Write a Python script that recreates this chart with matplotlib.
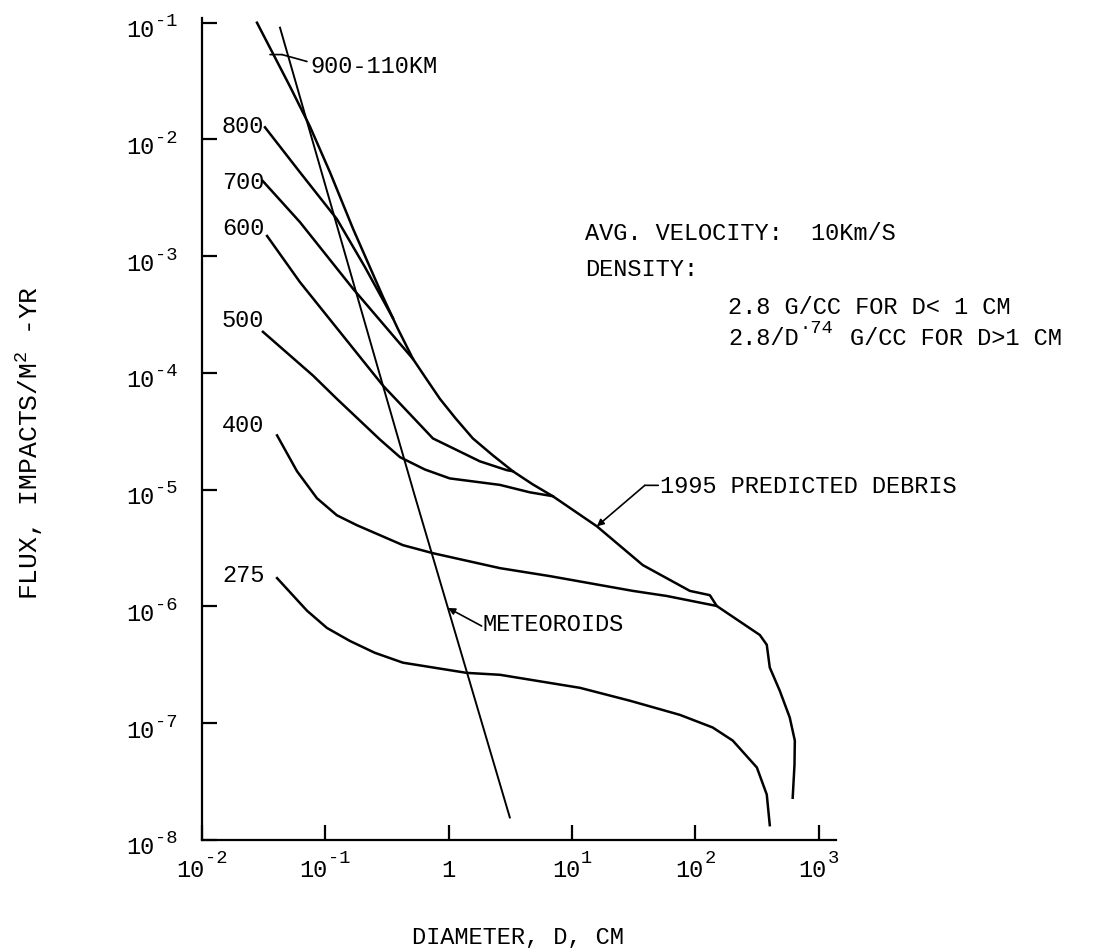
import matplotlib
matplotlib.use("Agg")
import matplotlib.pyplot as plt

plt.rcParams['font.family'] = ['Liberation Mono', 'DejaVu Sans Mono']
plt.rcParams['mathtext.fontset'] = 'custom'
plt.rcParams['mathtext.rm'] = 'Liberation Mono'
plt.rcParams['mathtext.it'] = 'Liberation Mono'
plt.rcParams['mathtext.default'] = 'rm'

# ---------------- data (diameter cm, flux impacts/m^2-yr) ----------------
# 900-1100 km curve continuing as the 1995 predicted debris envelope
d_env = [0.0279, 0.0517, 0.075, 0.109, 0.168, 0.293, 0.387, 0.513, 0.665, 0.849,
         1.14, 1.57, 2.28, 3.31, 4.81, 6.98, 15.9, 37.5, 90.2, 131, 149,
         333, 379, 401, 483, 582, 640, 636, 615]
f_env = [1.0e-1, 2.84e-2, 1.29e-2, 5.24e-3, 1.71e-3, 4.49e-4, 2.39e-4, 1.32e-4,
         8.77e-5, 6.0e-5, 4.07e-5, 2.75e-5, 1.97e-5, 1.44e-5, 1.11e-5, 8.8e-6,
         4.86e-6, 2.26e-6, 1.36e-6, 1.25e-6, 1.01e-6,
         5.7e-7, 4.7e-7, 3.0e-7, 1.9e-7, 1.12e-7, 7.1e-8, 4.4e-8, 2.3e-8]

d_800 = [0.0324, 0.0622, 0.124, 0.209, 0.353]
f_800 = [1.27e-2, 5.24e-3, 2.08e-3, 8.1e-4, 2.95e-4]

d_700 = [0.0312, 0.0622, 0.168, 0.293, 0.513]
f_700 = [4.39e-3, 1.96e-3, 5.25e-4, 2.64e-4, 1.32e-4]

d_600 = [0.0337, 0.0622, 0.293, 0.745, 1.79, 2.96, 3.31]
f_600 = [1.49e-3, 6.0e-4, 7.8e-5, 2.75e-5, 1.75e-5, 1.47e-5, 1.44e-5]

d_500 = [0.0312, 0.0794, 0.124, 0.277, 0.403, 0.641, 1.02, 2.60, 4.55, 6.98]
f_500 = [2.25e-4, 9.5e-5, 6.0e-5, 2.69e-5, 1.90e-5, 1.49e-5, 1.25e-5, 1.10e-5,
         9.5e-6, 8.8e-6]

d_400 = [0.0406, 0.0589, 0.0855, 0.124, 0.180, 0.426, 0.745, 2.60, 6.61, 31.1, 58.6, 149]
f_400 = [2.92e-5, 1.44e-5, 8.45e-6, 6.04e-6, 4.97e-6, 3.35e-6, 2.86e-6, 2.13e-6,
         1.82e-6, 1.36e-6, 1.23e-6, 1.01e-6]

d_275 = [0.0406, 0.071, 0.103, 0.158, 0.252, 0.426, 1.40, 2.60, 11.6, 29.4, 74.8,
         138, 201, 315, 379, 401]
f_275 = [1.75e-6, 9.2e-7, 6.55e-7, 5.07e-7, 4.01e-7, 3.30e-7, 2.70e-7, 2.60e-7,
         2.01e-7, 1.56e-7, 1.18e-7, 9.2e-8, 7.1e-8, 4.18e-8, 2.45e-8, 1.34e-8]

d_met = [0.0429, 0.293, 0.532, 0.986, 3.13]
f_met = [9.06e-2, 7.8e-5, 8.8e-6, 9.7e-7, 1.56e-8]

curve_labels = ['800', '700', '600', '500', '400', '275']
curve_label_flux = [1.29e-2, 4.31e-3, 1.71e-3, 2.80e-4, 3.55e-5, 1.86e-6]

xticks = [1e-2, 1e-1, 1, 1e1, 1e2, 1e3]
xtick_exp = ['-2', '-1', '', '1', '2', '3']
yticks = [1e-8, 1e-7, 1e-6, 1e-5, 1e-4, 1e-3, 1e-2, 1e-1]
ytick_exp = ['-8', '-7', '-6', '-5', '-4', '-3', '-2', '-1']

# ---------------- figure ----------------
W, H = 1095, 951
fig = plt.figure(figsize=(W / 100, H / 100), dpi=100)
ax = fig.add_axes([202 / W, 1 - 840 / H, (836 - 202) / W, (840 - 18) / H])
ax.set_xscale('log')
ax.set_yscale('log')
ax.set_xlim(1e-2, 10 ** 3.14)
ax.set_ylim(1e-8, 10 ** -0.96)

lw = 1.8
ax.plot(d_env, f_env, color='black', lw=lw)
ax.plot(d_800, f_800, color='black', lw=lw)
ax.plot(d_700, f_700, color='black', lw=lw)
ax.plot(d_600, f_600, color='black', lw=lw)
ax.plot(d_500, f_500, color='black', lw=lw)
ax.plot(d_400, f_400, color='black', lw=lw)
ax.plot(d_275, f_275, color='black', lw=lw)
ax.plot(d_met, f_met, color='black', lw=1.4)

fs = 17
fs_sup = 13.5
for lab, fl in zip(curve_labels, curve_label_flux):
    ax.text(0.0145, fl, lab, ha='left', va='center', fontsize=fs)

# leaders and annotations
ax.annotate('', xy=(0.0356, 0.0533), xytext=(0.0445, 0.0533),
            arrowprops=dict(arrowstyle='-', lw=1.2, color='black', shrinkA=0, shrinkB=0))
ax.annotate('', xy=(0.0445, 0.0533), xytext=(0.071, 0.0465),
            arrowprops=dict(arrowstyle='-', lw=1.2, color='black', shrinkA=0, shrinkB=0))
ax.text(0.075, 0.042, '900-110KM', ha='left', va='center', fontsize=fs)

ax.annotate('', xy=(0.99, 9.7e-7), xytext=(1.85, 6.8e-7),
            arrowprops=dict(arrowstyle='-|>', lw=1.2, color='black',
                            mutation_scale=10, shrinkA=0, shrinkB=0))
ax.text(1.89, 6.95e-7, 'METEOROIDS', ha='left', va='center', fontsize=fs)

ax.annotate('', xy=(15.9, 4.86e-6), xytext=(38.9, 1.09e-5),
            arrowprops=dict(arrowstyle='-|>', lw=1.2, color='black',
                            mutation_scale=10, shrinkA=0, shrinkB=0))
ax.annotate('', xy=(38.9, 1.09e-5), xytext=(50.0, 1.09e-5),
            arrowprops=dict(arrowstyle='-', lw=1.2, color='black', shrinkA=0, shrinkB=0))
ax.text(51.4, 1.07e-5, '1995 PREDICTED DEBRIS', ha='left', va='center', fontsize=fs)

# notes
fig.text(585 / W, 1 - 233 / H, 'AVG. VELOCITY:  10Km/S', ha='left', va='center', fontsize=fs)
fig.text(585 / W, 1 - 270 / H, 'DENSITY:', ha='left', va='center', fontsize=fs)
fig.text(728 / W, 1 - 307 / H, '2.8 G/CC FOR D< 1 CM', ha='left', va='center', fontsize=fs)
fig.text(728 / W, 1 - 345 / H, '2.8/D', ha='left', va='baseline', fontsize=fs)
fig.text(800 / W, 1 - 333 / H, '\u00b774', ha='left', va='baseline', fontsize=fs_sup)
fig.text(850 / W, 1 - 345 / H, 'G/CC FOR D>1 CM', ha='left', va='baseline', fontsize=fs)

# axes styling
for s in ['top', 'right']:
    ax.spines[s].set_visible(False)
for s in ['left', 'bottom']:
    ax.spines[s].set_linewidth(1.6)
ax.minorticks_off()
ax.set_xticks(xticks)
ax.set_xticklabels([''] * len(xticks))
ax.set_yticks(yticks)
ax.set_yticklabels([''] * len(yticks))
ax.tick_params(axis='both', direction='in', length=11, width=1.6)

# tick labels "10" with large typewriter-style exponents (offsets in points)
px = 0.72
base_w = 2 * 14.2
sup_cw = 11.3
gap = 0.5
for v, e in zip(xticks, xtick_exp):
    if e == '':
        ax.annotate('1', xy=(v, 0), xycoords=('data', 'axes fraction'),
                    xytext=(0, -19 * px), textcoords='offset points',
                    ha='center', va='top', fontsize=fs)
        continue
    w = base_w + gap + sup_cw * len(e)
    x0 = -w / 2
    ax.annotate('10', xy=(v, 0), xycoords=('data', 'axes fraction'),
                xytext=(x0 * px, -19 * px), textcoords='offset points',
                ha='left', va='top', fontsize=fs)
    ax.annotate(e, xy=(v, 0), xycoords=('data', 'axes fraction'),
                xytext=((x0 + base_w + gap) * px, -10 * px), textcoords='offset points',
                ha='left', va='top', fontsize=fs_sup)
for v, e in zip(yticks, ytick_exp):
    sw = sup_cw * len(e)
    ax.annotate(e, xy=(0, v), xycoords=('axes fraction', 'data'),
                xytext=(-24 * px, 1 * px), textcoords='offset points',
                ha='right', va='center', fontsize=fs_sup)
    ax.annotate('10', xy=(0, v), xycoords=('axes fraction', 'data'),
                xytext=(-(24 + sw + gap) * px, -8 * px), textcoords='offset points',
                ha='right', va='center', fontsize=fs)

fig.text(30 / W, 1 - 443 / H, 'FLUX, IMPACTS/M$^{2}$ -YR', rotation=90,
         ha='center', va='center', fontsize=19)
fig.text(518 / W, 1 - 938 / H, 'DIAMETER, D, CM', ha='center', va='center', fontsize=fs)

fig.savefig('out.png', dpi=100, facecolor='white')
